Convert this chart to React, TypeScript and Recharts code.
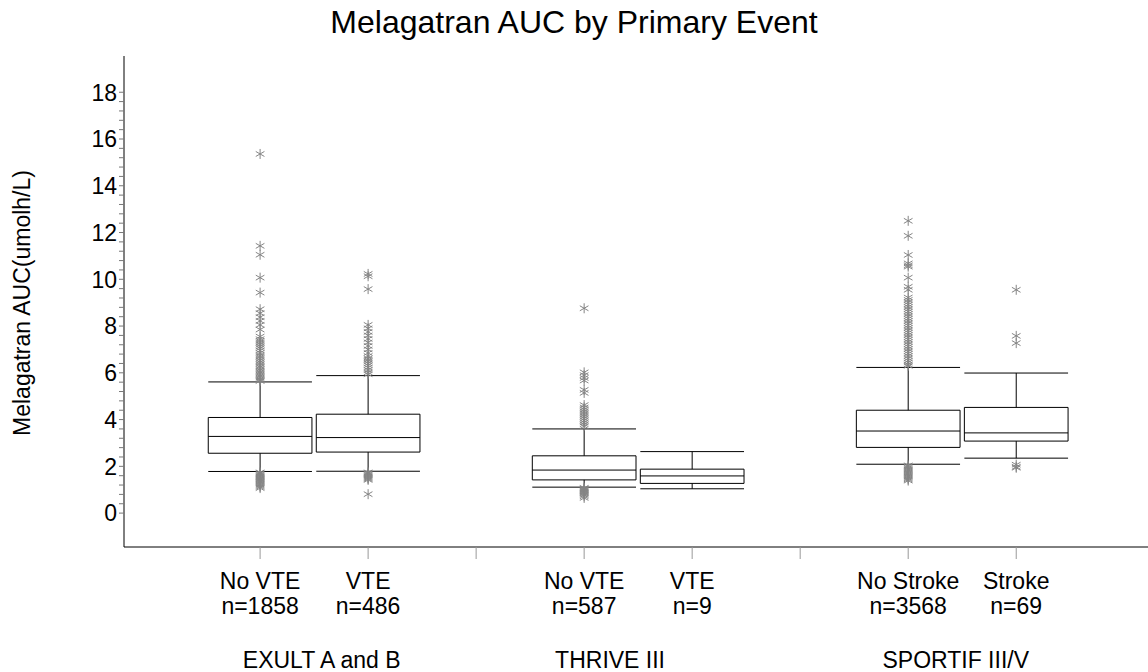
import React from "react";
import {
  ComposedChart,
  XAxis,
  YAxis,
  Scatter,
  ReferenceArea,
  ReferenceLine,
} from "recharts";

const FONT = "'Liberation Sans', Arial, Helvetica, sans-serif";

// x positions of the boxes (3 and 6 are the empty slots between studies)
const positions = [1, 2, 4, 5, 7, 8];
const catTicks = [1, 2, 3, 4, 5, 6, 7, 8];
const catNames = ["No VTE", "VTE", "", "No VTE", "VTE", "", "No Stroke", "Stroke"];
const catCounts = ["n=1858", "n=486", "", "n=587", "n=9", "", "n=3568", "n=69"];
const studyNames = ["EXULT A and B", "THRIVE III", "SPORTIF III/V"];
const studyTicks = [1.57, 4.24, 7.44];

const majorTicks = [0, 2, 4, 6, 8, 10, 12, 14, 16, 18];

// box statistics, one value per box
const lowWhisker = [1.78, 1.79, 1.11, 1.04, 2.09, 2.35];
const q1 = [2.56, 2.61, 1.42, 1.27, 2.81, 3.08];
const median = [3.28, 3.23, 1.84, 1.59, 3.51, 3.43];
const q3 = [4.09, 4.23, 2.45, 1.88, 4.4, 4.52];
const highWhisker = [5.61, 5.88, 3.6, 2.63, 6.23, 5.99];

// outliers
const exultNoVte = [
  15.36, 11.43, 11.05, 10.07, 9.43, 8.72, 8.55, 8.38, 8.22, 8.05, 7.85, 7.55,
  7.44, 7.36, 7.28, 7.2, 7.12, 7.05, 6.95, 6.85, 6.75, 6.68, 6.6, 6.52, 6.45,
  6.38, 6.3, 6.24, 6.17, 6.1, 6.04, 5.98, 5.92, 5.86, 5.8, 5.74, 5.69, 5.65,
  1.74, 1.7, 1.66, 1.62, 1.58, 1.55, 1.51, 1.47, 1.44, 1.4, 1.36, 1.32, 1.27,
  1.22, 1.17, 1.12, 1.07,
];
const exultVte = [
  10.23, 10.13, 9.58, 8.05, 7.9, 7.75, 7.6, 7.45, 7.3, 7.15, 7.0, 6.85, 6.72,
  6.62, 6.55, 6.48, 6.4, 6.32, 6.22, 6.12, 6.02, 5.94, 1.74, 1.7, 1.66, 1.62,
  1.58, 1.54, 1.5, 1.46, 1.42, 0.81,
];
const thriveNoVte = [
  8.76, 6.02, 5.9, 5.78, 5.67, 5.27, 5.14, 4.62, 4.52, 4.44, 4.36, 4.28, 4.2,
  4.12, 4.04, 3.96, 3.88, 3.8, 3.72, 1.08, 1.05, 1.02, 0.99, 0.96, 0.93, 0.9,
  0.87, 0.83, 0.78, 0.72, 0.65,
];
const thriveVte: number[] = [];
const sportifNoStroke = [
  12.5, 11.86, 11.04, 10.68, 10.6, 10.54, 10.07, 9.68, 9.55, 9.22, 9.12, 9.02,
  8.92, 8.82, 8.72, 8.62, 8.52, 8.42, 8.32, 8.22, 8.12, 8.02, 7.92, 7.82, 7.72,
  7.62, 7.52, 7.42, 7.32, 7.22, 7.12, 7.02, 6.92, 6.82, 6.72, 6.62, 6.52, 6.44,
  6.36, 6.3, 2.04, 1.99, 1.94, 1.89, 1.84, 1.79, 1.74, 1.69, 1.64, 1.59, 1.54,
  1.49, 1.44, 1.39,
];
const sportifStroke = [9.55, 7.58, 7.27, 2.07, 1.98, 1.94];

const outlierSets = [exultNoVte, exultVte, thriveNoVte, thriveVte, sportifNoStroke, sportifStroke];

const outlierData = outlierSets.flatMap((vals, i) =>
  vals.map((v) => ({ x: positions[i], y: v }))
);
const studyAnchors = studyTicks.map((x) => ({ x, y: 0 }));

const HALF = 0.48;

const Star = (props: any) => {
  const { cx, cy } = props;
  if (cx == null || cy == null) return <g />;
  const r = 5;
  const dx = r * 0.866;
  const dy = r * 0.5;
  return (
    <path
      d={`M${cx},${cy - r}L${cx},${cy + r}M${cx - dx},${cy - dy}L${cx + dx},${cy + dy}M${cx - dx},${cy + dy}L${cx + dx},${cy - dy}`}
      stroke="#858585"
      strokeWidth={1}
      fill="none"
    />
  );
};

const Hidden = () => <g />;

const CatTick = (props: any) => {
  const { x, y, payload } = props;
  const idx = catTicks.indexOf(payload.value);
  if (idx < 0 || !catNames[idx]) return <g />;
  return (
    <text textAnchor="middle" fontSize={23} fontFamily={FONT} fill="#000">
      <tspan x={x} y={y + 28}>
        {catNames[idx]}
      </tspan>
      <tspan x={x} y={y + 53}>
        {catCounts[idx]}
      </tspan>
    </text>
  );
};

const StudyTick = (props: any) => {
  const { x, y, payload } = props;
  let idx = studyTicks.indexOf(payload.value);
  if (idx < 0) {
    idx = studyTicks.findIndex((t) => Math.abs(t - payload.value) < 0.01);
  }
  if (idx < 0) return <g />;
  return (
    <text x={x} y={y + 36} textAnchor="middle" fontSize={23} fontFamily={FONT} fill="#000">
      {studyNames[idx]}
    </text>
  );
};

const YTick = (props: any) => {
  const { x, y, payload } = props;
  if (!majorTicks.includes(payload.value)) return <g />;
  return (
    <text x={x} y={y} dy="0.36em" textAnchor="end" fontSize={23} fontFamily={FONT} fill="#000">
      {payload.value}
    </text>
  );
};

// major ticks plus 4 minor ticks in each interval
const yTicks = majorTicks
  .flatMap((m, i) =>
    i < majorTicks.length - 1 ? [m, m + 0.4, m + 0.8, m + 1.2, m + 1.6] : [m]
  )
  .map((v) => Math.round(v * 10) / 10);

export default function App() {
  return (
    <div style={{ position: "absolute", left: 0, top: 0, width: 1148, height: 672, background: "#fff" }}>
      <ComposedChart
        width={1148}
        height={672}
        margin={{ top: 56, right: 0, bottom: 0, left: 0 }}
      >
        <XAxis
          type="number"
          dataKey="x"
          domain={[-0.26, 9.22]}
          ticks={catTicks}
          interval={0}
          allowDataOverflow
          height={85}
          tickSize={12}
          tickMargin={2}
          axisLine={{ stroke: "#000", strokeWidth: 1 }}
          tickLine={{ stroke: "#999" }}
          tick={<CatTick />}
        />
        <XAxis
          xAxisId="grp"
          type="number"
          dataKey="x"
          domain={[-0.26, 9.22]}
          ticks={studyTicks}
          interval={0}
          allowDataOverflow
          height={40}
          tickSize={0}
          tickMargin={0}
          axisLine={false}
          tickLine={false}
          tick={<StudyTick />}
        />
        <YAxis
          type="number"
          dataKey="y"
          domain={[-1.45, 19.55]}
          ticks={yTicks}
          interval={0}
          allowDataOverflow
          width={124}
          tickSize={5}
          tickMargin={2}
          axisLine={{ stroke: "#000", strokeWidth: 1 }}
          tickLine={{ stroke: "#777" }}
          tick={<YTick />}
        />
        {positions.flatMap((p, i) => [
          <ReferenceLine
            key={`wu${i}`}
            segment={[{ x: p, y: q3[i] }, { x: p, y: highWhisker[i] }]}
            stroke="#000"
          />,
          <ReferenceLine
            key={`wl${i}`}
            segment={[{ x: p, y: lowWhisker[i] }, { x: p, y: q1[i] }]}
            stroke="#000"
          />,
          <ReferenceLine
            key={`cu${i}`}
            segment={[{ x: p - HALF, y: highWhisker[i] }, { x: p + HALF, y: highWhisker[i] }]}
            stroke="#000"
          />,
          <ReferenceLine
            key={`cl${i}`}
            segment={[{ x: p - HALF, y: lowWhisker[i] }, { x: p + HALF, y: lowWhisker[i] }]}
            stroke="#000"
          />,
          <ReferenceArea
            key={`b${i}`}
            x1={p - HALF}
            x2={p + HALF}
            y1={q1[i]}
            y2={q3[i]}
            fill="#fff"
            fillOpacity={1}
            stroke="#000"
            strokeWidth={1}
          />,
          <ReferenceLine
            key={`m${i}`}
            segment={[{ x: p - HALF, y: median[i] }, { x: p + HALF, y: median[i] }]}
            stroke="#000"
          />,
        ])}
        <Scatter data={outlierData} shape={<Star />} isAnimationActive={false} />
        <Scatter
          xAxisId="grp"
          data={studyAnchors}
          shape={<Hidden />}
          isAnimationActive={false}
        />
      </ComposedChart>
      <svg
        width={1148}
        height={672}
        style={{ position: "absolute", left: 0, top: 0, pointerEvents: "none" }}
      >
        <text x={574} y={33} textAnchor="middle" fontSize={32} fontFamily={FONT} fill="#000">
          Melagatran AUC by Primary Event
        </text>
        <text
          transform="translate(30,303) rotate(-90)"
          textAnchor="middle"
          fontSize={23}
          fontFamily={FONT}
          fill="#000"
        >
          Melagatran AUC(umolh/L)
        </text>
      </svg>
    </div>
  );
}
